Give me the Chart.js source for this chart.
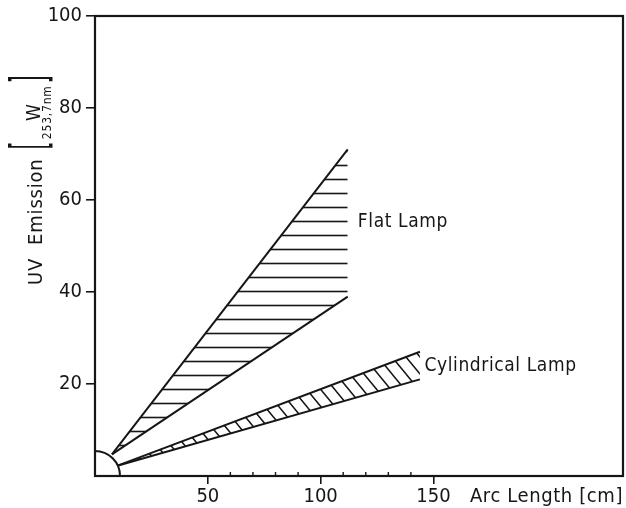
<!DOCTYPE html>
<html>
<head>
<meta charset="utf-8">
<script src="https://cdn.jsdelivr.net/npm/chart.js@4.4.1/dist/chart.umd.min.js"></script>
<style>
  html, body { margin: 0; padding: 0; background: #ffffff; }
  canvas { display: block; }
</style>
</head>
<body>
<canvas id="c" width="626" height="508"></canvas>
<script>
// ---------------- data ----------------
const xTickValues = [50, 100, 150];
const xMinorTickValues = [60, 70, 80, 90, 110, 120, 130, 140];
const yTickValues = [20, 40, 60, 80, 100];

const flatLampX = [7.5, 112];
const flatLampUpper = [4.7, 71];
const flatLampLower = [4.7, 39];

const cylLampX = [10.3, 144];
const cylLampUpper = [2.3, 27];
const cylLampLower = [2.3, 21];

const lampOrigin = [0, 0];

const seriesLabels = ['Flat Lamp', 'Cylindrical Lamp'];
const seriesLabelX = [116.5, 146];
const seriesLabelY = [55.3, 23.8];

const xTitle = 'Arc Length [cm]';
const yTitleMain = 'UV  Emission';
const yTitleUnit = 'W';
const yTitleSub = '253,7nm';

const X_MIN = 0, X_MAX = 234, Y_MIN = 0, Y_MAX = 100;

// ---------------- style ----------------
const INK = '#161616';
const TICK_FONT = '"DejaVu Sans Condensed", "DejaVu Sans", sans-serif';
const LABEL_FONT = '"DejaVu Sans Condensed", "DejaVu Sans", sans-serif';

const canvas = document.getElementById('c');
const mainCtx = canvas.getContext('2d');

function horizontalHatch() {
  const c = document.createElement('canvas');
  c.width = 8; c.height = 14;
  const g = c.getContext('2d');
  g.strokeStyle = INK; g.lineWidth = 1.6;
  g.beginPath(); g.moveTo(0, 11.5); g.lineTo(8, 11.5); g.stroke();
  return mainCtx.createPattern(c, 'repeat');
}
function diagonalHatch() {
  const w = 14, h = 17;
  const c = document.createElement('canvas');
  c.width = w; c.height = h;
  const g = c.getContext('2d');
  g.strokeStyle = INK; g.lineWidth = 1.5;
  g.beginPath();
  for (const dx of [-w, 0, w]) { g.moveTo(dx - w, -h); g.lineTo(dx + 2 * w, 2 * h); }
  g.stroke();
  return mainCtx.createPattern(c, 'repeat');
}

const pts = (xs, ys) => xs.map((x, i) => ({ x: x, y: ys[i] }));

const lineDefaults = {
  type: 'line', borderColor: INK, borderWidth: 2, pointRadius: 0,
  tension: 0, showLine: true, order: 1
};

const decor = {
  id: 'decor',
  afterDraw(chart) {
    const { ctx, chartArea: a, scales } = chart;
    const xs = scales.x, ys = scales.y;
    ctx.save();
    // frame
    ctx.strokeStyle = INK; ctx.lineWidth = 2.2;
    ctx.strokeRect(a.left, a.top, a.right - a.left, a.bottom - a.top);
    // minor ticks (inside)
    ctx.lineWidth = 1.4;
    ctx.beginPath();
    xMinorTickValues.forEach(v => {
      const px = xs.getPixelForValue(v);
      ctx.moveTo(px, a.bottom); ctx.lineTo(px, a.bottom - 4);
    });
    ctx.stroke();

    // series labels
    ctx.fillStyle = INK;
    ctx.textAlign = 'left'; ctx.textBaseline = 'middle';
    ctx.font = '19px ' + LABEL_FONT;
    if ('letterSpacing' in ctx) ctx.letterSpacing = '0.6px';
    seriesLabels.forEach((t, i) => {
      ctx.fillText(t, xs.getPixelForValue(seriesLabelX[i]), ys.getPixelForValue(seriesLabelY[i]));
    });

    // x title (same line as tick labels, right side)
    ctx.textAlign = 'right'; ctx.textBaseline = 'middle';
    ctx.font = '20px ' + LABEL_FONT;
    ctx.fillText(xTitle, a.right, 497);

    // y title (rotated)
    if ('letterSpacing' in ctx) ctx.letterSpacing = '0.8px';
    ctx.rotate(-Math.PI / 2);
    // rotated frame: (u, v) -> screen (v, -u)
    let u = -285;
    ctx.textAlign = 'left'; ctx.textBaseline = 'alphabetic';
    ctx.font = '20px ' + LABEL_FONT;
    ctx.fillText(yTitleMain, u, 42);
    u += ctx.measureText(yTitleMain).width + 9;

    const drawBracket = (ch, uPos) => {
      ctx.save();
      ctx.font = '50px ' + LABEL_FONT;
      const m = ctx.measureText(ch);
      const asc = m.actualBoundingBoxAscent, desc = m.actualBoundingBoxDescent;
      const base = 30 + (asc - desc) / 2;
      ctx.translate(uPos, base);
      ctx.scale(0.45, 1);
      ctx.fillText(ch, 0, 0);
      const wdt = m.width * 0.45;
      ctx.restore();
      return wdt;
    };
    u += drawBracket('[', u) + 2;
    ctx.font = '12px ' + LABEL_FONT;
    const subW = ctx.measureText(yTitleSub).width;
    ctx.font = '19px ' + LABEL_FONT;
    const wW = ctx.measureText(yTitleUnit).width;
    const fracW = Math.max(subW, wW);
    ctx.fillText(yTitleUnit, u + (fracW - wW) / 2, 40);
    ctx.font = '12px ' + LABEL_FONT;
    ctx.fillText(yTitleSub, u + (fracW - subW) / 2, 51);
    u += fracW + 2;
    drawBracket(']', u);
    ctx.restore();
  }
};

new Chart(canvas, {
  type: 'line',
  data: {
    datasets: [
      Object.assign({}, lineDefaults, { label: 'Flat Lamp upper', data: pts(flatLampX, flatLampUpper), fill: false }),
      Object.assign({}, lineDefaults, { label: 'Flat Lamp lower', data: pts(flatLampX, flatLampLower), fill: '-1', backgroundColor: horizontalHatch() }),
      Object.assign({}, lineDefaults, { label: 'Cylindrical Lamp upper', data: pts(cylLampX, cylLampUpper), fill: false }),
      Object.assign({}, lineDefaults, { label: 'Cylindrical Lamp lower', data: pts(cylLampX, cylLampLower), fill: '-1', backgroundColor: diagonalHatch() }),
      {
        type: 'scatter', label: 'Lamp', data: [{ x: lampOrigin[0], y: lampOrigin[1] }],
        pointRadius: 25, pointBorderWidth: 2, pointBorderColor: INK, pointBackgroundColor: '#ffffff',
        showLine: false, clip: 0, order: 0
      }
    ]
  },
  options: {
    responsive: false,
    devicePixelRatio: 1,
    animation: false,
    events: [],
    layout: { autoPadding: false, padding: { top: 15, right: 3, left: 0, bottom: 0 } },
    plugins: { legend: { display: false }, tooltip: { enabled: false } },
    scales: {
      x: {
        type: 'linear', min: X_MIN, max: X_MAX,
        afterBuildTicks: s => { s.ticks = xTickValues.map(v => ({ value: v })); },
        afterFit: s => { s.height = 32; },
        border: { display: false },
        grid: { drawOnChartArea: false, drawTicks: true, tickLength: 8, color: INK, lineWidth: 1.6 },
        ticks: { color: INK, font: { family: TICK_FONT, size: 20 }, padding: 1, maxRotation: 0, autoSkip: false }
      },
      y: {
        type: 'linear', min: Y_MIN, max: Y_MAX,
        afterBuildTicks: s => { s.ticks = yTickValues.map(v => ({ value: v })); },
        afterFit: s => { s.width = 95; },
        border: { display: false },
        grid: { drawOnChartArea: false, drawTicks: true, tickLength: 9, color: INK, lineWidth: 1.6 },
        ticks: { color: INK, font: { family: TICK_FONT, size: 20 }, padding: 4, autoSkip: false }
      }
    }
  },
  plugins: [decor]
});
</script>
</body>
</html>
